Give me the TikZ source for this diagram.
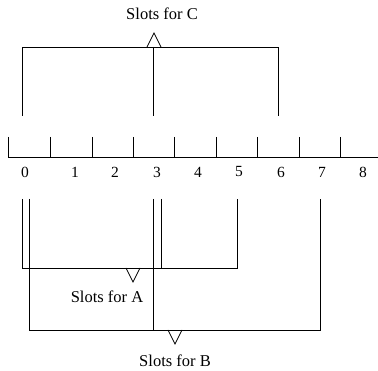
\documentclass[tikz,border=0pt]{standalone}
\usepackage{fontspec}
\setmainfont{Liberation Serif}
\begin{document}
\begin{tikzpicture}[x=1pt,y=-1pt,line width=0.8pt,line join=miter,
  lbl/.style={inner sep=0pt,font=\fontsize{16.5}{19}\selectfont},
  dig/.style={inner sep=0pt,font=\fontsize{15.5}{18}\selectfont}]
\useasboundingbox (0,0) rectangle (378,371);
% tape
\coordinate (t0) at (8,137);
\coordinate (b0) at (8,157);
\coordinate (bend) at (378,157);
\draw (t0) -- (b0) -- (bend);
\foreach \x in {50,92,133,174,216,257,299,340}{
  \draw (\x,137) -- (\x,157);
}
\foreach \x/\d in {25/0,75/1,115/2,157/3,198/4,239/5,281/6,322/7,363/8}{
  \node[dig] (n\d) at (\x,172) {\d};
}
% C bracket
\coordinate (c1) at (22,116); \coordinate (c1t) at (22,47);
\coordinate (c2) at (153,116); \coordinate (c2t) at (153,47);
\coordinate (c3) at (278,116); \coordinate (c3t) at (278,47);
\draw (c1) -- (c1t) -- (c3t) -- (c3);
\draw (c2t) -- (c2);
\draw (147,47) -- (154,33) -- (161,47);
\node[lbl] (lC) at (162,14) {Slots for C};
% A bracket
\coordinate (a1) at (22,199); \coordinate (a1b) at (22,268);
\coordinate (a2) at (161,199); \coordinate (a2b) at (161,268);
\coordinate (a3) at (237,199); \coordinate (a3b) at (237,268);
\draw (a1) -- (a1b) -- (a3b) -- (a3);
\draw (a2) -- (a2b);
\draw (126,268) -- (133,282) -- (140,268);
\node[lbl] (lA) at (107,297) {Slots for A};
% B bracket
\coordinate (q1) at (29,199); \coordinate (q1b) at (29,330);
\coordinate (q2) at (153,199); \coordinate (q2b) at (153,330);
\coordinate (q3) at (320,199); \coordinate (q3b) at (320,330);
\draw (q1) -- (q1b) -- (q3b) -- (q3);
\draw (q2) -- (q2b);
\draw (168,330) -- (175,344) -- (182,330);
\node[lbl] (lB) at (175,361) {Slots for B};
\end{tikzpicture}
\end{document}
